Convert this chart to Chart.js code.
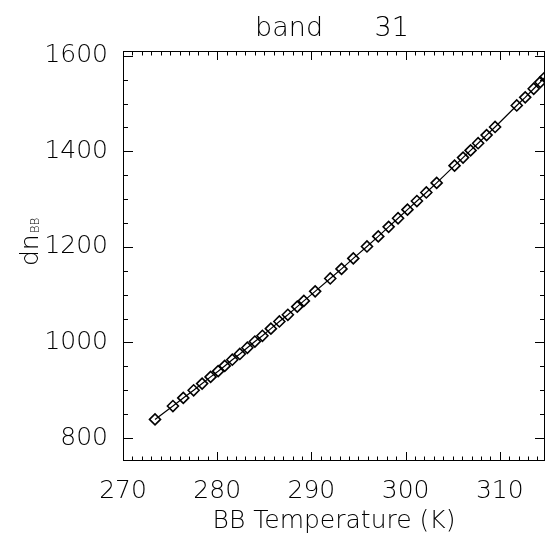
<!DOCTYPE html>
<html>
<head>
<meta charset="utf-8">
<script src="https://cdn.jsdelivr.net/npm/chart.js@4.4.1/dist/chart.umd.min.js"></script>
<style>
  html, body { margin: 0; padding: 0; background: #fff; overflow: hidden; }
  #wrap { width: 545px; height: 540px; }
</style>
</head>
<body>
<div id="wrap"><canvas id="c" width="545" height="540"></canvas></div>
<script>
// blackbody temperature (K) and counts
var temps = [273.4, 275.3, 276.4, 277.5, 278.4, 279.3, 280.1, 280.8, 281.6, 282.4,
             283.2, 284.0, 284.8, 285.7, 286.6, 287.5, 288.5, 289.2, 290.4, 292.0,
             293.2, 294.45, 295.9, 297.1, 298.2, 299.2, 300.2, 301.2, 302.2, 303.3,
             305.2, 306.1, 306.9, 307.7, 308.6, 309.5, 311.8, 312.7, 313.6, 314.3,
             314.8, 315.4];
var dnBB = [839, 867, 884, 900, 914, 928, 940, 951, 964, 976,
            989, 1002, 1014, 1029, 1044, 1058, 1075, 1087, 1107, 1134,
            1154, 1176, 1201, 1222, 1242, 1260, 1278, 1296, 1314, 1334,
            1370, 1387, 1402, 1417, 1434, 1451, 1496, 1513, 1531, 1545,
            1555, 1567];

var xTicks = [270, 280, 290, 300, 310];
var yTicks = [800, 1000, 1200, 1400, 1600];
var titleText = "band      31";

var FONT = '"DejaVu Sans", sans-serif';

var points = [];
for (var i = 0; i < temps.length; i++)
    points.push({x: temps[i], y: dnBB[i]});

// IDL-style box with inward ticks on all four sides, plus titles
var frame = {
    id: 'frame',
    afterDraw: function(chart) {
        var ctx = chart.ctx, a = chart.chartArea;
        var xs = chart.scales.x, ys = chart.scales.y;
        ctx.save();
        ctx.strokeStyle = '#000';
        ctx.lineWidth = 1;
        ctx.strokeRect(a.left + 0.5, a.top + 0.5, a.right - a.left - 1, a.bottom - a.top - 1);
        ctx.beginPath();
        for (var v = 270; v <= xs.max; v += 1) {
            var px = Math.round(xs.getPixelForValue(v)) + 0.5;
            var len = (v % 10 === 0) ? 9 : 4.5;
            ctx.moveTo(px, a.bottom); ctx.lineTo(px, a.bottom - len);
            ctx.moveTo(px, a.top); ctx.lineTo(px, a.top + len);
        }
        for (var w = 800; w <= ys.max; w += 50) {
            var py = Math.round(ys.getPixelForValue(w)) + 0.5;
            var l2 = (w % 200 === 0) ? 10 : 5;
            ctx.moveTo(a.left, py); ctx.lineTo(a.left + l2, py);
            ctx.moveTo(a.right, py); ctx.lineTo(a.right - l2, py);
        }
        ctx.stroke();

        ctx.fillStyle = '#000';
        ctx.font = '200 27px ' + FONT;
        ctx.textAlign = 'center';
        ctx.textBaseline = 'alphabetic';
        ctx.fillText(titleText, 332, 36);

        // y axis title: dn with subscript BB
        ctx.translate(38, 266);
        ctx.rotate(-Math.PI / 2);
        ctx.textAlign = 'left';
        ctx.font = '200 25px ' + FONT;
        ctx.fillText('dn', 0, 0);
        var wdn = ctx.measureText('dn').width;
        ctx.font = '200 12px ' + FONT;
        ctx.fillText('BB', wdn + 1, 1);
        ctx.restore();
    }
};

var ctx = document.getElementById('c').getContext('2d');
var chart = new Chart(ctx, {
    type: 'scatter',
    data: {
        datasets: [{
            data: points,
            showLine: true,
            borderColor: '#000',
            borderWidth: 1.2,
            backgroundColor: 'rgba(0,0,0,0)',
            pointStyle: 'rectRot',
            pointRadius: 5.5,
            pointBorderWidth: 1.6,
            pointBorderColor: '#000',
            pointBackgroundColor: 'rgba(0,0,0,0)'
        }]
    },
    options: {
        responsive: false,
        animation: false,
        events: [],
        layout: { autoPadding: false, padding: { top: 51, right: 0, left: 0, bottom: 0 } },
        plugins: { legend: { display: false }, tooltip: { enabled: false }, title: { display: false } },
        scales: {
            x: {
                type: 'linear',
                min: 270,
                max: 314.8,
                grid: { display: false, drawTicks: false },
                border: { display: false },
                afterBuildTicks: function(s) { s.ticks = xTicks.map(function(v) { return {value: v}; }); },
                afterFit: function(s) { s.height = 79; s.paddingLeft = 0; s.paddingRight = 0; },
                ticks: { color: '#000', padding: 15, maxRotation: 0, callback: function(v) { return String(v); },
                         font: { family: FONT, size: 25, weight: 200 } },
                title: { display: true, text: 'BB Temperature (K)', color: '#000', padding: { top: 0, bottom: 4 },
                         font: { family: FONT, size: 25, weight: 200 } }
            },
            y: {
                type: 'linear',
                min: 752,
                max: 1610,
                grid: { display: false, drawTicks: false },
                border: { display: false },
                afterBuildTicks: function(s) { s.ticks = yTicks.map(function(v) { return {value: v}; }); },
                afterFit: function(s) { s.width = 123; s.paddingTop = 0; s.paddingBottom = 0; },
                ticks: { color: '#000', padding: 15, callback: function(v) { return String(v); },
                         font: { family: FONT, size: 25, weight: 200 } }
            }
        }
    },
    plugins: [frame]
});
</script>
</body>
</html>
